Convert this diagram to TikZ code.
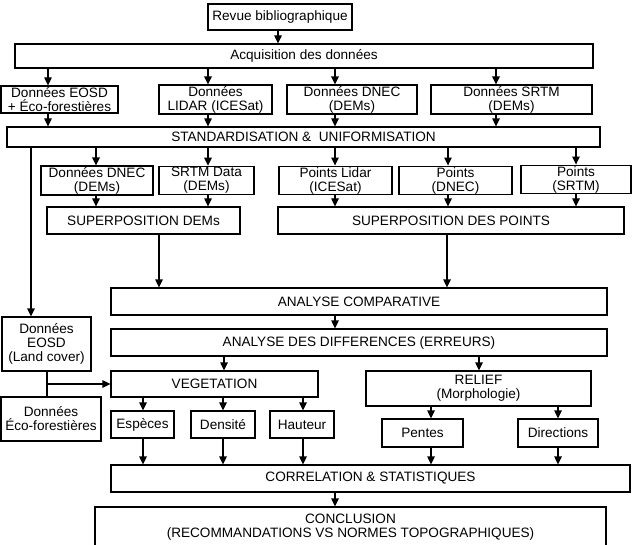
\documentclass[tikz,border=0pt]{standalone}
\usepackage{fontspec}
\setmainfont{Liberation Sans}
\usetikzlibrary{arrows.meta}
\tikzset{
    box/.style={rectangle,draw,line width=1.2pt,align=center,inner sep=1pt},
    arr/.style={-{Triangle[length=8pt,width=7.5pt]},line width=1.2pt}
}
\begin{document}
\begin{tikzpicture}[x=1pt,y=-1pt,font=\fontsize{13.6}{14}\selectfont]
    \clip (0,0) rectangle (639,545);

    \node[box,minimum width=144,minimum height=26] (revue) at (280,17) {Revue bibliographique};
    \node[box,minimum width=578,minimum height=24] (acq) at (304,56) {Acquisition des données};

    \node[box,minimum width=117,minimum height=27] (eosd_eco) at (59.5,99.5) {Données EOSD\\+ Éco-forestières};
    \node[box,minimum width=113,minimum height=27] (lidar) at (215.5,99.5) {Données\\LIDAR (ICESat)};
    \node[box,minimum width=130,minimum height=27] (dnec) at (352,99.5) {Données DNEC\\(DEMs)};
    \node[box,minimum width=161,minimum height=27] (srtm) at (511.5,99.5) {Données SRTM\\(DEMs)};

    \node[box,minimum width=593,minimum height=20] (standard) at (303.5,137) {STANDARDISATION \& \ UNIFORMISATION};

    \node[box,minimum width=112,minimum height=27] (dnec_dem) at (97,180.5) {Données DNEC\\(DEMs)};
    \node[box,minimum width=95,minimum height=27] (srtm_dem) at (206.5,180.5) {SRTM Data\\(DEMs)};
    \node[box,minimum width=113,minimum height=27] (pts_lidar) at (335.5,180.5) {Points Lidar\\(ICESat)};
    \node[box,minimum width=113,minimum height=27] (pts_dnec) at (455.5,180.5) {Points\\(DNEC)};
    \node[box,minimum width=110,minimum height=27] (pts_srtm) at (576,179.5) {Points\\(SRTM)};

    \node[box,minimum width=193,minimum height=27] (sup_dem) at (143.5,220.5) {SUPERPOSITION DEMs};
    \node[box,minimum width=346,minimum height=27] (sup_pts) at (451,220.5) {SUPERPOSITION DES POINTS};

    \node[box,minimum width=496,minimum height=27] (analyse) at (359,301.5) {ANALYSE COMPARATIVE};
    \node[box,minimum width=496,minimum height=27] (diff) at (359,342.5) {ANALYSE DES DIFFERENCES (ERREURS)};

    \node[box,minimum width=89,minimum height=54] (eosd_lc) at (46.5,344) {Données\\EOSD\\(Land cover)};
    \node[box,minimum width=100,minimum height=44] (eco_for) at (51,419) {Données\\Éco-forestières};

    \node[box,minimum width=207,minimum height=26] (veg) at (214.5,384) {VEGETATION};
    \node[box,minimum width=225,minimum height=35] (relief) at (478.5,388.5) {RELIEF\\(Morphologie)};

    \node[box,minimum width=63,minimum height=27] (especes) at (142.5,424.5) {Espèces};
    \node[box,minimum width=64,minimum height=27] (densite) at (223,424.5) {Densité};
    \node[box,minimum width=64,minimum height=27] (hauteur) at (302,424.5) {Hauteur};
    \node[box,minimum width=81,minimum height=28] (pentes) at (422.5,433) {Pentes};
    \node[box,minimum width=80,minimum height=28] (directions) at (558,433) {Directions};

    \node[box,minimum width=519,minimum height=27] (correl) at (370.5,478.5) {CORRELATION \& STATISTIQUES};
    \node[box,minimum width=511,minimum height=40] (concl) at (350.5,527) {CONCLUSION\\(RECOMMANDATIONS VS NORMES TOPOGRAPHIQUES)};

    \draw[arr] (revue.south -| 278,0) -- (acq.north -| 278,0);

    \draw[arr] (acq.south -| 48,0) -- (eosd_eco.north -| 48,0);
    \draw[arr] (acq.south -| 208,0) -- (lidar.north -| 208,0);
    \draw[arr] (acq.south -| 335,0) -- (dnec.north -| 335,0);
    \draw[arr] (acq.south -| 496,0) -- (srtm.north -| 496,0);

    \draw[arr] (eosd_eco.south -| 48,0) -- (standard.north -| 48,0);
    \draw[arr] (lidar.south -| 208,0) -- (standard.north -| 208,0);
    \draw[arr] (dnec.south -| 335,0) -- (standard.north -| 335,0);
    \draw[arr] (srtm.south -| 496,0) -- (standard.north -| 496,0);

    \draw[arr] (standard.south -| 31,0) -- (eosd_lc.north -| 31,0);
    \draw[arr] (standard.south -| 96,0) -- (dnec_dem.north -| 96,0);
    \draw[arr] (standard.south -| 208,0) -- (srtm_dem.north -| 208,0);
    \draw[arr] (standard.south -| 335,0) -- (pts_lidar.north -| 335,0);
    \draw[arr] (standard.south -| 448,0) -- (pts_dnec.north -| 448,0);
    \draw[arr] (standard.south -| 576,0) -- (pts_srtm.north -| 576,0);

    \draw[arr] (dnec_dem.south -| 96,0) -- (sup_dem.north -| 96,0);
    \draw[arr] (srtm_dem.south -| 208,0) -- (sup_dem.north -| 208,0);
    \draw[arr] (pts_lidar.south -| 335,0) -- (sup_pts.north -| 335,0);
    \draw[arr] (pts_dnec.south -| 448,0) -- (sup_pts.north -| 448,0);
    \draw[arr] (pts_srtm.south -| 576,0) -- (sup_pts.north -| 576,0);

    \draw[arr] (sup_dem.south -| 159,0) -- (analyse.north -| 159,0);
    \draw[arr] (sup_pts.south -| 447,0) -- (analyse.north -| 447,0);
    \draw[arr] (analyse.south -| 335,0) -- (diff.north -| 335,0);

    \draw[arr] (diff.south -| 224,0) -- (veg.north -| 224,0);
    \draw[arr] (diff.south -| 479,0) -- (relief.north -| 479,0);

    \draw[line width=1.2pt] (eosd_lc.south -| 47,0) -- (eco_for.north -| 47,0);
    \draw[arr] (veg.west -| 47,0) -- (veg.west);

    \draw[arr] (veg.south -| 143,0) -- (especes.north -| 143,0);
    \draw[arr] (veg.south -| 223,0) -- (densite.north -| 223,0);
    \draw[arr] (veg.south -| 303,0) -- (hauteur.north -| 303,0);
    \draw[arr] (relief.south -| 431,0) -- (pentes.north -| 431,0);
    \draw[arr] (relief.south -| 558,0) -- (directions.north -| 558,0);

    \draw[arr] (especes.south -| 143,0) -- (correl.north -| 143,0);
    \draw[arr] (densite.south -| 223,0) -- (correl.north -| 223,0);
    \draw[arr] (hauteur.south -| 303,0) -- (correl.north -| 303,0);
    \draw[arr] (pentes.south -| 431,0) -- (correl.north -| 431,0);
    \draw[arr] (directions.south -| 558,0) -- (correl.north -| 558,0);

    \draw[arr] (correl.south -| 335,0) -- (concl.north -| 335,0);
\end{tikzpicture}
\end{document}
